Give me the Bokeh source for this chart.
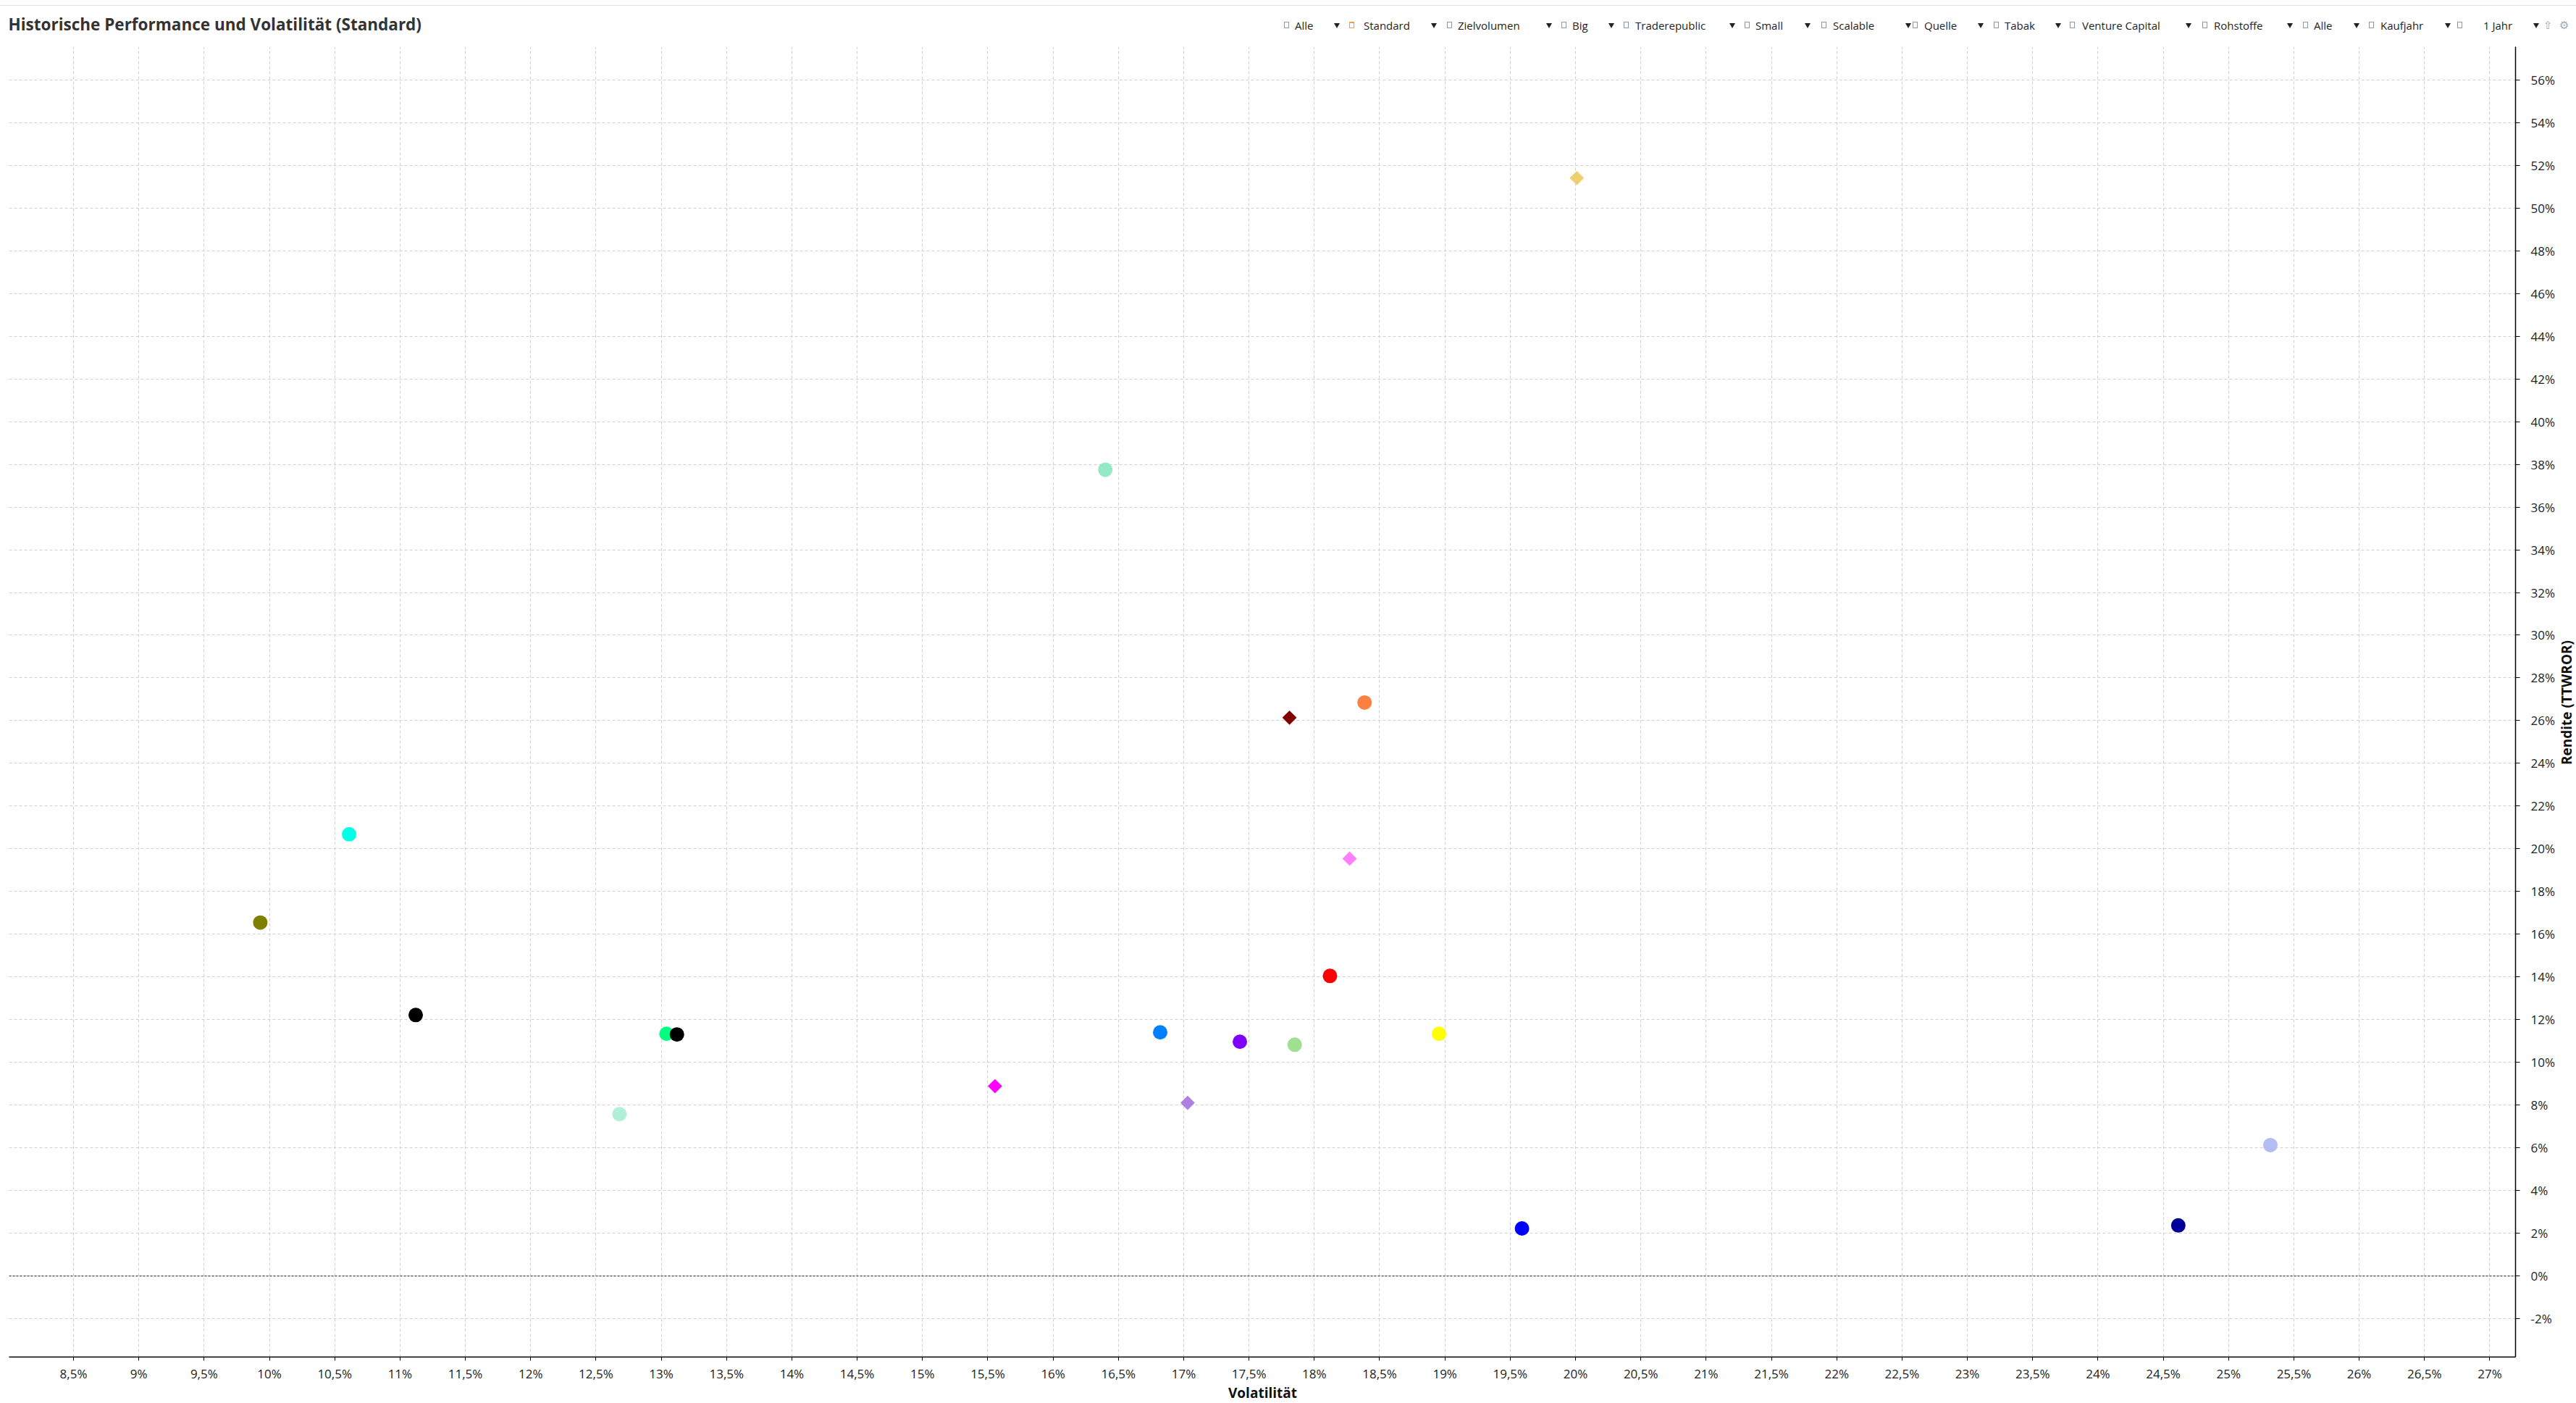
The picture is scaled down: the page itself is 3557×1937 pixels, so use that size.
import math
from bokeh.plotting import figure
from bokeh.layouts import column, row
from bokeh.models import Range1d, Span, ColumnDataSource, Div
from bokeh.embed import file_html
from bokeh.resources import INLINE

# ---------------- data ----------------
volatility = [20.01, 16.40, 17.81, 18.385, 18.27, 10.61, 9.93, 18.12, 11.12, 13.04, 13.12,
              16.82, 17.43, 17.85, 18.955, 15.555, 17.03, 12.68, 25.32, 19.59, 24.615]
rendite = [51.40, 37.75, 26.14, 26.85, 19.54, 20.68, 16.55, 14.05, 12.22, 11.34, 11.31,
           11.41, 10.97, 10.83, 11.34, 8.89, 8.11, 7.58, 6.13, 2.23, 2.37]
point_colors = ["#EDD070", "#93E9C6", "#800000", "#FF8040", "#FF80FF", "#00FFE6", "#808000",
                "#FF0000", "#000000", "#00FF80", "#000000", "#0080FF", "#8000FF", "#A0E090",
                "#FFFF00", "#FF00FF", "#B080E0", "#B0F0D8", "#B3BCF3", "#0000FF", "#000099"]
point_shapes = ["diamond", "circle", "diamond", "circle", "diamond", "circle", "circle",
                "circle", "circle", "circle", "circle", "circle", "circle", "circle",
                "circle", "diamond", "diamond", "circle", "circle", "circle", "circle"]

x_ticks = [8.5, 9.0, 9.5, 10.0, 10.5, 11.0, 11.5, 12.0, 12.5, 13.0, 13.5, 14.0, 14.5, 15.0,
           15.5, 16.0, 16.5, 17.0, 17.5, 18.0, 18.5, 19.0, 19.5, 20.0, 20.5, 21.0, 21.5, 22.0,
           22.5, 23.0, 23.5, 24.0, 24.5, 25.0, 25.5, 26.0, 26.5, 27.0]
x_tick_labels = ["8,5%", "9%", "9,5%", "10%", "10,5%", "11%", "11,5%", "12%", "12,5%", "13%",
                 "13,5%", "14%", "14,5%", "15%", "15,5%", "16%", "16,5%", "17%", "17,5%",
                 "18%", "18,5%", "19%", "19,5%", "20%", "20,5%", "21%", "21,5%", "22%",
                 "22,5%", "23%", "23,5%", "24%", "24,5%", "25%", "25,5%", "26%", "26,5%", "27%"]
y_ticks = [-2, 0, 2, 4, 6, 8, 10, 12, 14, 16, 18, 20, 22, 24, 26, 28, 30, 32, 34, 36, 38, 40,
           42, 44, 46, 48, 50, 52, 54, 56]
y_tick_labels = ["-2%", "0%", "2%", "4%", "6%", "8%", "10%", "12%", "14%", "16%", "18%", "20%",
                 "22%", "24%", "26%", "28%", "30%", "32%", "34%", "36%", "38%", "40%", "42%",
                 "44%", "46%", "48%", "50%", "52%", "54%", "56%"]

chart_title = "Historische Performance und Volatilität (Standard)"
x_title = "Volatilität"
y_title = "Rendite (TTWROR)"

toolbar_labels = ["Alle", "Standard", "Zielvolumen", "Big", "Traderepublic", "Small", "Scalable",
                  "Quelle", "Tabak", "Venture Capital", "Rohstoffe", "Alle", "Kaufjahr", "1 Jahr"]

# ---------------- layout constants (px) ----------------
WIN_W, WIN_H = 3557, 1937
HEAD_H = 64
YT_W = 27
XT_H = 27
FIG_W = WIN_W - YT_W
FIG_H = WIN_H - HEAD_H - XT_H
FRAME_L, FRAME_R_BORDER, FRAME_B_BORDER = 12, 55, 34
AXIS_TITLE_PX = 19
toolbar_box_x = [1773, 1863, 1998, 2156, 2242, 2409, 2515, 2641, 2753, 2858, 3041, 3180, 3271, 3393]
toolbar_text_x = [1788, 1883, 2013, 2171, 2258, 2424, 2531, 2657, 2768, 2875, 3057, 3195, 3287, 3429]
toolbar_tri_x = [1842, 1976, 2135, 2221, 2388, 2492, 2631, 2731, 2838, 3018, 3158, 3250, 3376, 3498]
FONT = "Open Sans"

# ---------------- header (title + filter bar) ----------------
def span(x, y, html, style):
    return (f'<span style="position:absolute;left:{x}px;top:{y}px;transform:translateY(-50%);'
            f'line-height:1.2;white-space:nowrap;{style}">{html}</span>')

parts = ['<div style="position:absolute;left:0;top:7px;width:100%;height:1px;background:#e2e2e2;"></div>']
parts.append(span(11.5, 33, chart_title,
                  f"font-family:'{FONT}';font-weight:bold;font-size:22.5px;color:#333333;"))
TY = 35
for lab, bx, tx, vx in zip(toolbar_labels, toolbar_box_x, toolbar_text_x, toolbar_tri_x):
    col = "#f0a030" if lab == "Standard" else "#8c98ac"
    top_w = 2 if lab == "Standard" else 1
    parts.append(f'<span style="position:absolute;left:{bx}px;top:{TY - 5}px;width:7px;height:9px;'
                 f'box-sizing:border-box;border:1px solid {col};border-top:{top_w}px solid {col};'
                 f'background:white;"></span>')
    parts.append(span(tx, TY, lab, f"font-family:'{FONT}';font-size:15px;color:#1e1e1e;"))
    parts.append(f'<span style="position:absolute;left:{vx}px;top:{TY - 3}px;width:0;height:0;'
                 f'border-left:4.5px solid transparent;border-right:4.5px solid transparent;'
                 f'border-top:7px solid #222222;"></span>')
parts.append(span(3512, TY, "⇧", "font-family:'DejaVu Sans';font-size:15px;color:#9aa8bc;"))
parts.append(span(3534, TY, "⚙", "font-family:'DejaVu Sans';font-size:15px;color:#9aa8bc;"))

header = Div(text=(f'<div style="position:relative;width:{WIN_W}px;height:{HEAD_H}px;'
                   f'overflow:hidden;background:white;">' + "".join(parts) + "</div>"),
             width=WIN_W, height=HEAD_H, margin=0)

# ---------------- main chart ----------------
p = figure(width=FIG_W, height=FIG_H, x_range=Range1d(8.0065, 27.197),
           y_range=Range1d(-3.79, 57.55), y_axis_location="right", x_axis_location="below",
           toolbar_location=None, output_backend="svg", min_border_left=FRAME_L,
           min_border_right=FRAME_R_BORDER, min_border_top=0, min_border_bottom=FRAME_B_BORDER,
           margin=0)
p.outline_line_color = None
p.background_fill_color = "white"
p.border_fill_color = "white"

p.xaxis.ticker = x_ticks
p.xaxis.major_label_overrides = dict(zip(x_ticks, x_tick_labels))
p.yaxis.ticker = y_ticks
p.yaxis.major_label_overrides = dict(zip(y_ticks, y_tick_labels))

for ax in (p.xaxis[0], p.yaxis[0]):
    ax.axis_line_color = "black"
    ax.axis_line_width = 1.5
    ax.major_tick_line_color = "black"
    ax.major_tick_in = 0
    ax.minor_tick_line_color = None
    ax.major_label_text_font = FONT
    ax.major_label_text_font_size = "17px"
    ax.major_label_text_color = "#222222"

p.xaxis.major_tick_out = 5
p.xaxis.major_label_standoff = 6
p.yaxis.major_tick_out = 6
p.yaxis.major_label_standoff = 15

for g in (p.xgrid[0], p.ygrid[0]):
    g.grid_line_color = "#d0d0d0"
    g.grid_line_dash = "4 3"
    g.grid_line_width = 1

p.add_layout(Span(location=0, dimension="width", line_color="#222222", line_dash="3 2",
                  line_width=1.2))

markers = ["square" if s == "diamond" else "circle" for s in point_shapes]
angles = [math.pi / 4 if s == "diamond" else 0.0 for s in point_shapes]
sizes = [14 if s == "diamond" else 20 for s in point_shapes]
src = ColumnDataSource(dict(x=volatility, y=rendite, color=point_colors, marker=markers,
                            angle=angles, size=sizes))
p.scatter(x="x", y="y", marker="marker", angle="angle", size="size", fill_color="color",
          line_color=None, source=src)

# ---------------- axis titles ----------------
frame_h = FIG_H - FRAME_B_BORDER
ytitle = Div(text=(f'<div style="width:{YT_W}px;height:{frame_h}px;display:flex;'
                   f'align-items:center;justify-content:center;">'
                   f'<span style="writing-mode:vertical-rl;transform:rotate(180deg);'
                   f"font-family:'{FONT}';font-weight:bold;font-size:{AXIS_TITLE_PX}px;"
                   f'line-height:{YT_W - 1}px;color:#111111;white-space:nowrap;">{y_title}</span></div>'),
             width=YT_W, height=FIG_H, margin=0)

frame_cx = (FRAME_L + FIG_W - FRAME_R_BORDER) / 2
xtitle = Div(text=(f'<div style="position:relative;width:{WIN_W}px;height:{XT_H}px;">'
                   f'<span style="position:absolute;left:{frame_cx}px;top:0;transform:translateX(-50%);'
                   f"font-family:'{FONT}';font-weight:bold;font-size:{AXIS_TITLE_PX}px;"
                   f'line-height:{XT_H - 1}px;color:#111111;white-space:nowrap;">{x_title}</span></div>'),
             width=WIN_W, height=XT_H, margin=0)

layout = column(header, row(p, ytitle, spacing=0), xtitle, spacing=0)
open("out.html", "w").write(file_html(layout, INLINE))
